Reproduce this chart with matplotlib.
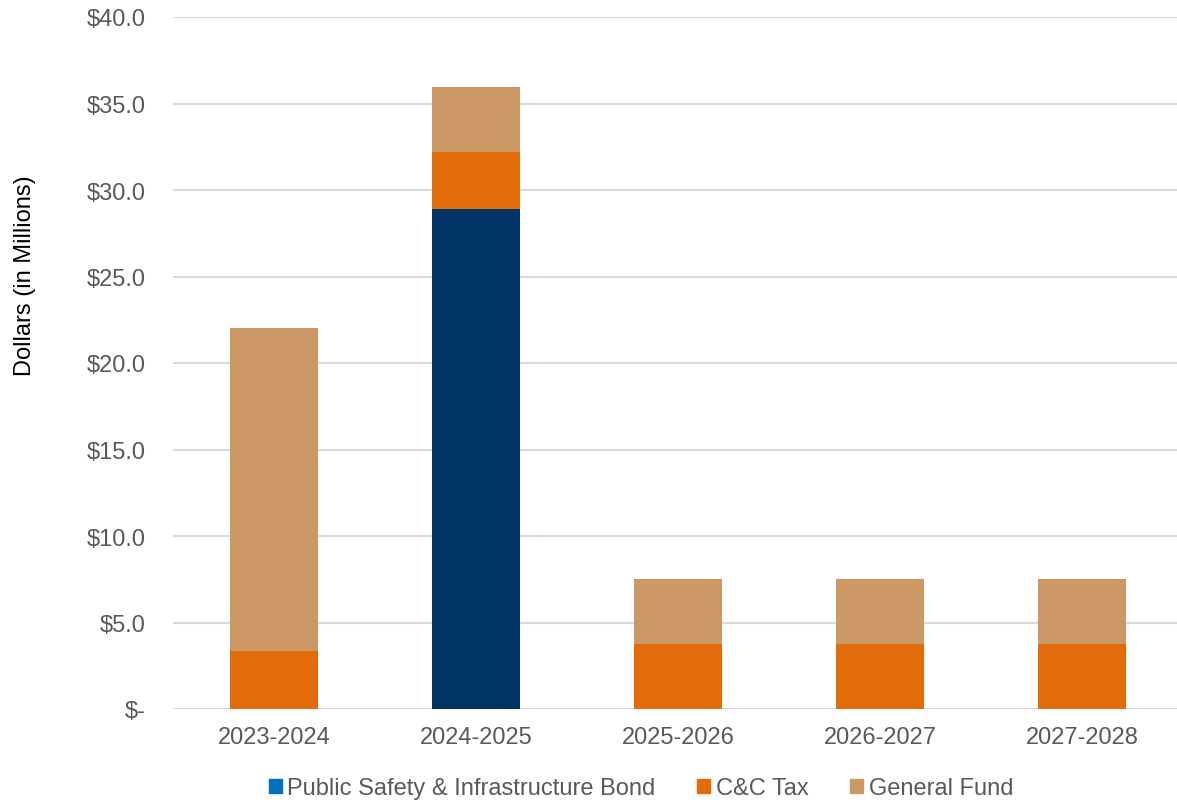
import matplotlib.pyplot as plt
from matplotlib.patches import Patch
from matplotlib.ticker import FuncFormatter

plt.rcParams['font.family'] = ['Liberation Sans', 'DejaVu Sans']

years = ['2023-2024', '2024-2025', '2025-2026', '2026-2027', '2027-2028']
bond = [0.0, 28.9, 0.0, 0.0, 0.0]
cc_tax = [3.35, 3.3, 3.75, 3.75, 3.75]
general_fund = [18.7, 3.75, 3.75, 3.75, 3.75]

bond_color = '#003366'
bond_legend_color = '#0070C0'
cc_color = '#E36C0A'
gf_color = '#CC9966'

fig = plt.figure(figsize=(11.77, 8.04), dpi=100)
ax = fig.add_axes([173 / 1177, 1 - 710 / 804, 1004 / 1177, 692 / 804])

x = range(len(years))
width = 0.436
bottom2 = [b + c for b, c in zip(bond, cc_tax)]
ax.bar(x, bond, width, color=bond_color, zorder=3)
ax.bar(x, cc_tax, width, bottom=bond, color=cc_color, zorder=3)
ax.bar(x, general_fund, width, bottom=bottom2, color=gf_color, zorder=3)

ax.set_ylim(0, 40)
ax.set_xlim(-0.5, 4.47)
ax.set_yticks(range(0, 41, 5))
ax.yaxis.set_major_formatter(FuncFormatter(lambda v, p: '$-' if v == 0 else f'${v:.1f}'))
ax.set_xticks(list(x))
ax.set_xticklabels(years)
ax.tick_params(axis='both', length=0, labelsize=17, labelcolor='#595959')
ax.tick_params(axis='x', pad=12)
ax.tick_params(axis='y', pad=19.5)
ax.grid(axis='y', color='#D9D9D9', linewidth=1.5, zorder=0)
for s in ax.spines.values():
    s.set_visible(False)
ax.set_ylabel('Dollars (in Millions)', fontsize=17, color='black')
ax.yaxis.set_label_coords(-0.136, 0.627)

handles = [Patch(color=bond_legend_color, label='Public Safety & Infrastructure Bond'),
           Patch(color=cc_color, label='C&C Tax'),
           Patch(color=gf_color, label='General Fund')]
fig.legend(handles=handles, loc='center', bbox_to_anchor=(641 / 1177, 1 - 789 / 804),
           ncol=3, frameon=False, fontsize=17, handlelength=0.55, handleheight=0.55,
           handletextpad=0.25, columnspacing=1.75, labelcolor='#595959')

plt.savefig('out.png', dpi=100)
